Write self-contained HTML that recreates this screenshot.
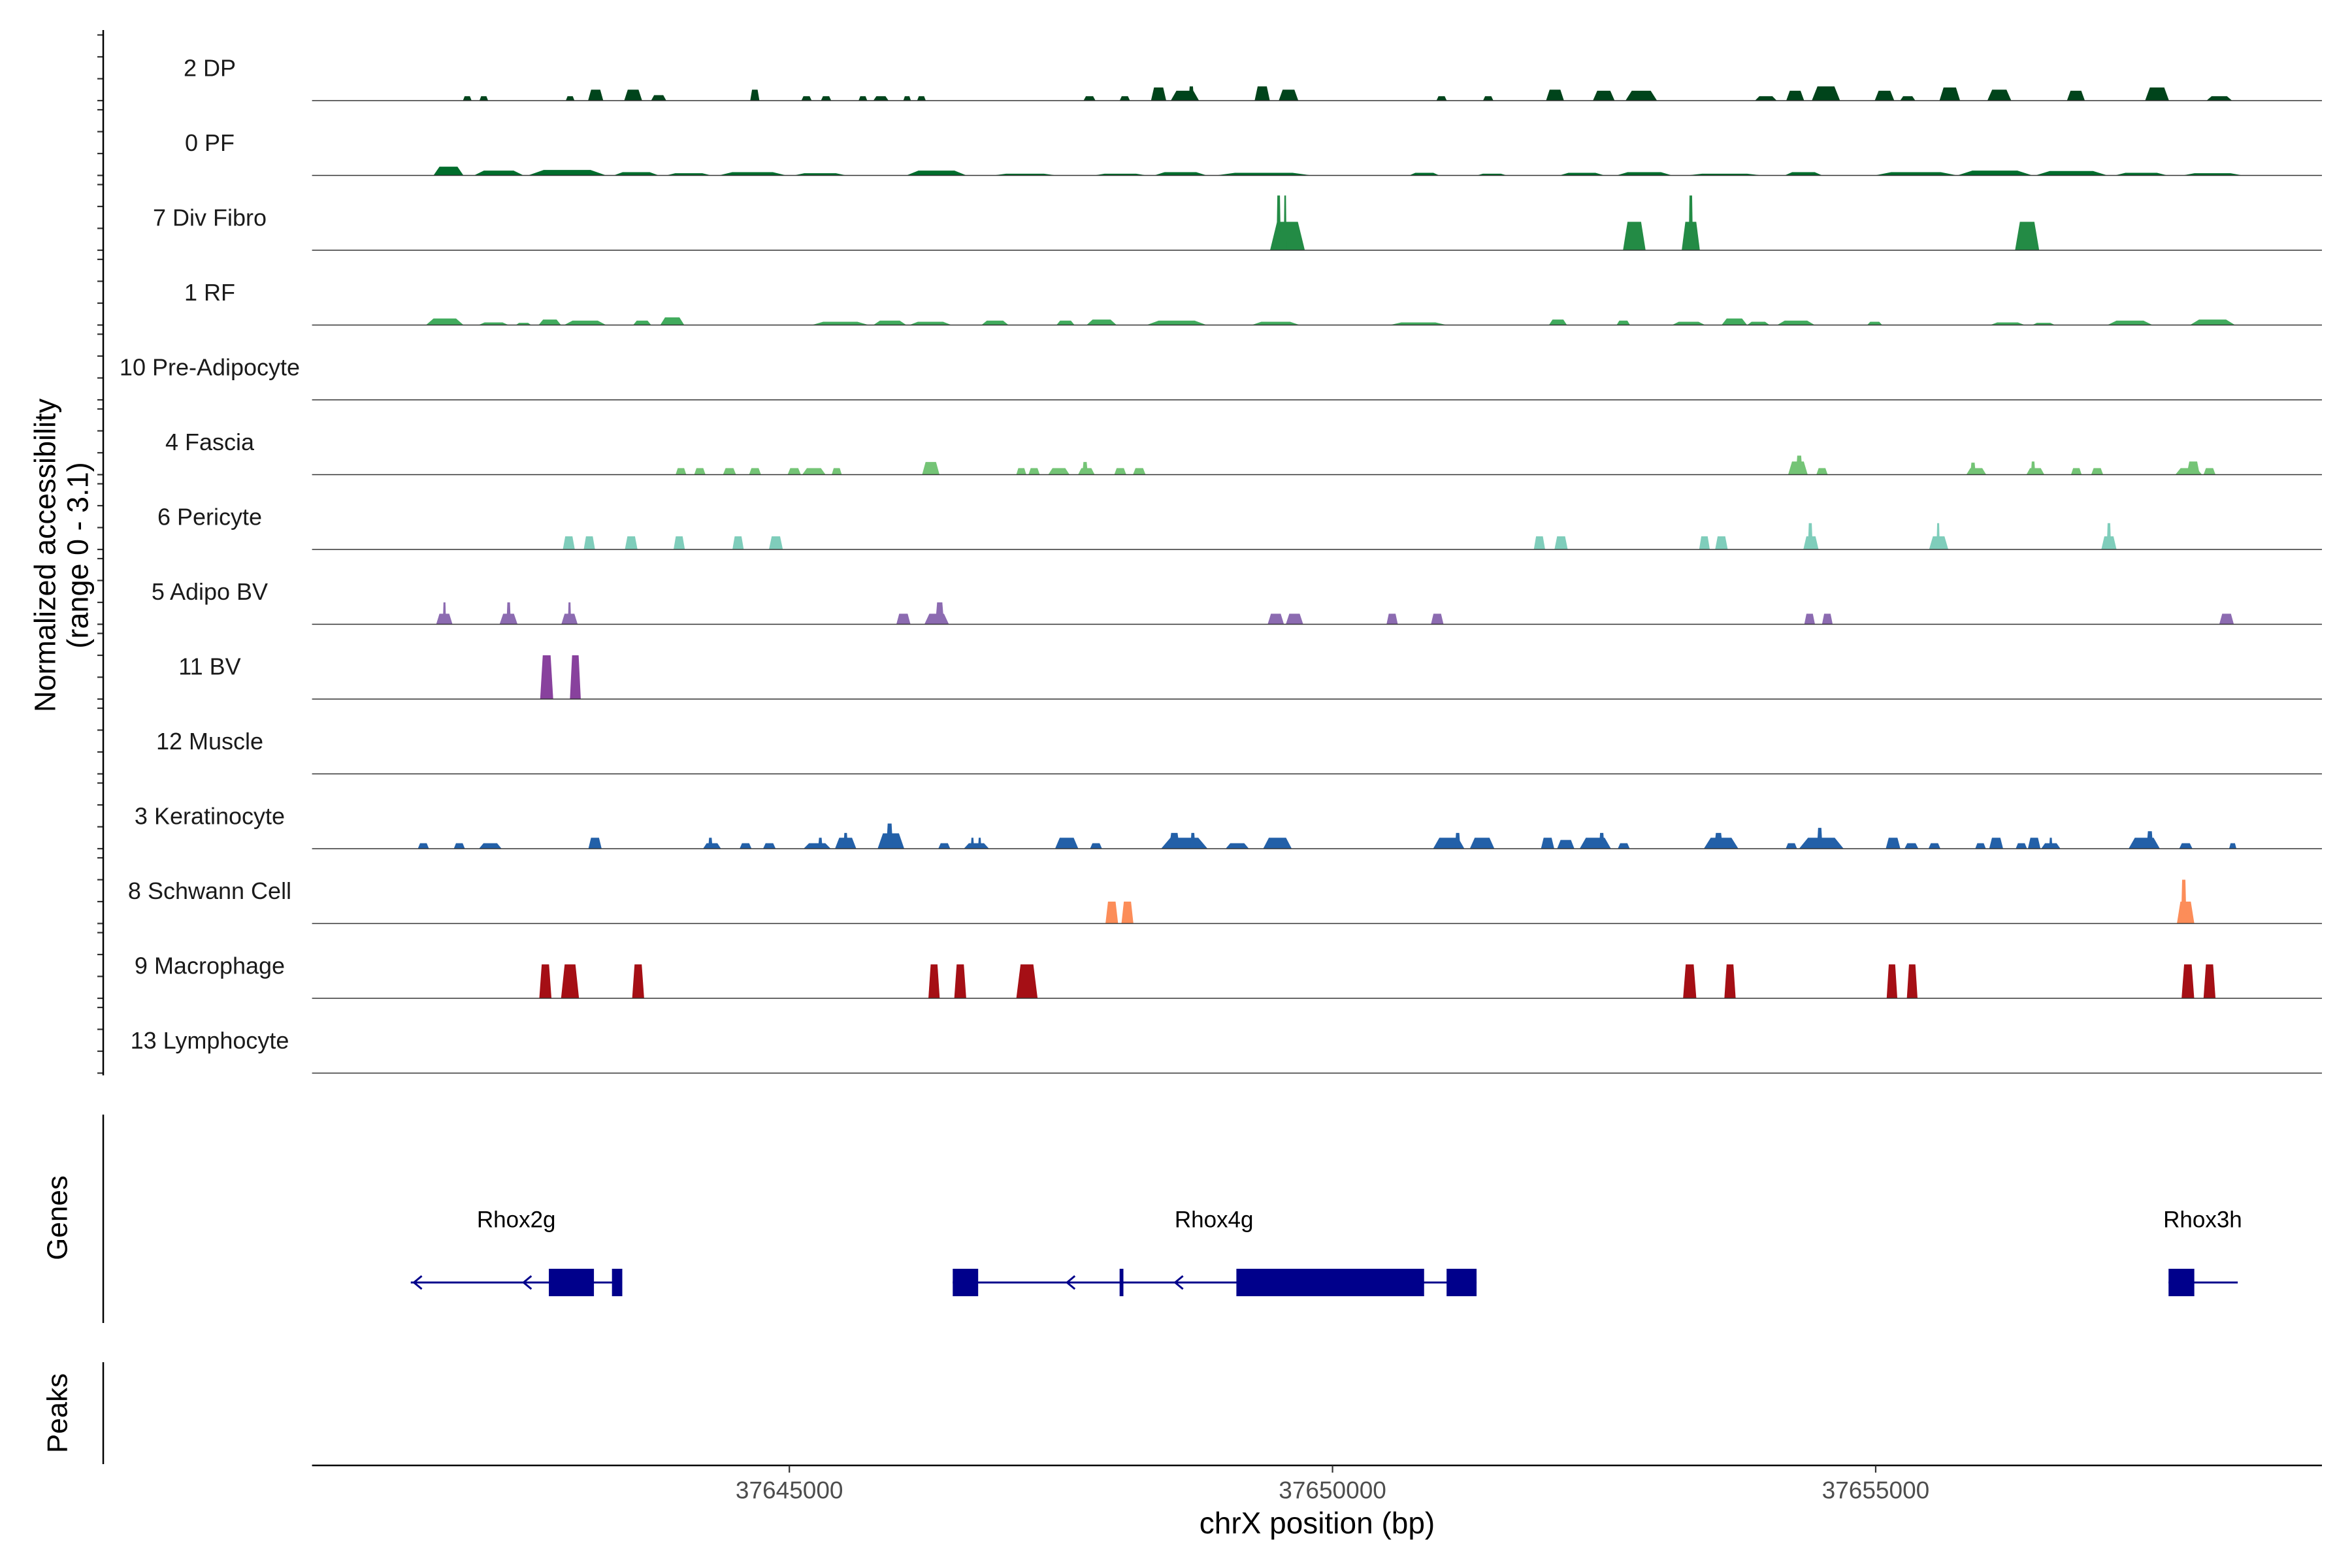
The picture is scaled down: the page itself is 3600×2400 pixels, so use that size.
<!DOCTYPE html>
<html><head><meta charset="utf-8"><title>Coverage plot</title>
<style>html,body{margin:0;padding:0;background:#fff}svg{display:block}text{font-family:"Liberation Sans",Arial,sans-serif}</style>
</head><body>
<svg id="chart" xmlns="http://www.w3.org/2000/svg" width="3600" height="2400" viewBox="0 0 3600 2400">
<rect width="3600" height="2400" fill="#fff"/>
<g id="tracks"></g>
<g id="genes"></g>
<g id="axes"></g>
</svg>
<script>
// peaks: [center bp, width bp, normalized value]
const dpPeaks=[[37642035,80,.2],[37642187,80,.2],[37642982,80,.2],[37643217,140,.5],[37643562,165,.5],[37643797,140,.25],[37644682,85,.5],[37645158,95,.2],[37645338,95,.2],[37645677,80,.2],[37645843,140,.2],[37646084,70,.2],[37646216,80,.2],[37647763,110,.2],[37648088,95,.2],[37648399,140,.6],[37648641,260,.45],[37648700,50,.65],[37649353,140,.65],[37649595,180,.5],[37651004,95,.2],[37651433,95,.2],[37652048,165,.5],[37652497,200,.45],[37652842,290,.45],[37653989,200,.2],[37654259,165,.45],[37654542,260,.65],[37655081,180,.45],[37655295,140,.2],[37655682,190,.6],[37656138,220,.5],[37656843,165,.45],[37657590,220,.6],[37658163,235,.2]];
const pfPeaks=[[37641862,276,.4],[37642325,456,.22],[37642954,719,.25],[37643590,415,.15],[37644074,415,.1],[37644661,622,.15],[37645283,484,.1],[37646354,553,.22],[37647169,580,.08],[37648047,484,.08],[37648600,484,.15],[37649367,884,.12],[37650845,276,.12],[37651467,276,.08],[37652296,415,.12],[37652870,511,.15],[37653609,691,.08],[37654335,346,.15],[37655371,760,.15],[37656097,691,.22],[37656802,663,.2],[37657444,484,.12],[37658101,553,.1]];
const divFibroPeaks=[[37649585,320,1.3],[37649504,40,2.5],[37649564,25,2.5],[37652778,208,1.3],[37653298,167,1.3],[37653298,40,2.5],[37656394,222,1.3]];
const rfPeaks=[[37641828,346,.3],[37642277,276,.12],[37642553,140,.1],[37642795,207,.25],[37643120,387,.2],[37643645,166,.2],[37643922,221,.35],[37645469,525,.15],[37645925,304,.2],[37646299,387,.15],[37646893,249,.2],[37647542,166,.2],[37647874,276,.25],[37648565,553,.2],[37649477,442,.15],[37650790,525,.12],[37652075,166,.25],[37652677,124,.2],[37653278,304,.15],[37653699,235,.3],[37653920,207,.15],[37654266,346,.2],[37654991,138,.15],[37656214,318,.12],[37656546,207,.1],[37657341,415,.2],[37658101,415,.25]];
const preAdipoPeaks=[];
const fasciaPeaks=[[37644002,98,.3],[37644176,104,.3],[37644449,120,.3],[37644684,110,.3],[37645045,122,.3],[37645226,215,.3],[37645436,93,.3],[37646302,160,.58],[37647135,92,.3],[37647253,104,.3],[37647481,196,.3],[37647734,153,.3],[37647722,50,.58],[37648046,110,.3],[37648221,116,.3],[37654284,180,.6],[37654296,60,.87],[37654506,104,.3],[37655926,183,.3],[37655896,50,.55],[37656470,165,.3],[37656449,40,.6],[37656847,98,.3],[37657039,110,.3],[37657881,245,.3],[37657923,120,.6],[37658073,110,.3]];
const pericytePeaks=[[37642970,110,.6],[37643159,104,.6],[37643544,116,.6],[37643986,104,.6],[37644528,104,.6],[37644876,128,.6],[37651905,104,.6],[37652104,122,.6],[37653424,98,.6],[37653580,116,.6],[37654404,140,.6],[37654398,45,1.2],[37655580,177,.6],[37655575,30,1.2],[37657147,140,.6],[37657147,40,1.2]];
const adipoBvPeaks=[[37641824,150,.48],[37641825,30,1.0],[37642415,165,.48],[37642416,40,1.0],[37642976,150,.48],[37642976,30,1.0],[37646050,130,.48],[37646356,225,.48],[37646384,80,1.0],[37649478,150,.48],[37649650,160,.48],[37650549,104,.48],[37650964,116,.48],[37654392,98,.48],[37654555,98,.48],[37658230,134,.48]];
const bvPeaks=[[37642766,120,2.0],[37643030,100,2.0]];
const musclePeaks=[];
const keratinocytePeaks=[[37641631,102,.25],[37641962,102,.25],[37642247,208,.25],[37643211,122,.5],[37644288,165,.25],[37644273,40,.5],[37644597,110,.25],[37644816,116,.25],[37645256,250,.25],[37645285,40,.5],[37645518,196,.5],[37645518,40,.72],[37645935,245,.7],[37645923,60,1.15],[37646426,110,.25],[37646722,232,.25],[37646685,30,.5],[37646752,30,.5],[37647553,214,.5],[37647823,110,.25],[37648636,428,.5],[37648544,98,.72],[37648714,45,.72],[37649123,214,.25],[37649493,263,.5],[37651070,288,.5],[37651152,50,.72],[37651377,226,.5],[37651980,122,.5],[37652147,159,.4],[37652419,288,.5],[37652478,50,.72],[37652681,110,.25],[37653577,318,.5],[37653553,80,.72],[37654224,104,.25],[37654500,410,.5],[37654485,50,.95],[37655160,134,.5],[37655329,128,.25],[37655541,110,.25],[37655965,98,.25],[37656109,128,.5],[37656341,104,.25],[37656459,116,.5],[37656612,177,.25],[37656612,30,.5],[37657472,288,.5],[37657524,60,.8],[37657855,122,.25],[37658287,67,.25]];
const schwannPeaks=[[37647968,116,1.0],[37648112,110,1.0],[37657853,160,1.0],[37657836,50,2.0]];
const macrophagePeaks=[[37642754,112,1.55],[37642981,165,1.55],[37643608,110,1.55],[37646332,104,1.55],[37646573,110,1.55],[37647187,196,1.55],[37653288,122,1.55],[37653659,104,1.55],[37655150,98,1.55],[37655336,98,1.55],[37657874,116,1.55],[37658073,110,1.55]];
const lymphocytePeaks=[];
const trackNames=["2 DP","0 PF","7 Div Fibro","1 RF","10 Pre-Adipocyte","4 Fascia","6 Pericyte","5 Adipo BV","11 BV","12 Muscle","3 Keratinocyte","8 Schwann Cell","9 Macrophage","13 Lymphocyte"];
const trackColors=["#00441b","#006d2c","#238b45","#41ab5d","#5bb86a","#74c476","#7fcdbb","#8c6bb1","#88419d","#4a4a9a","#2360a8","#fc8d59","#a50f15","#555555"];
const trackPeaks=[dpPeaks,pfPeaks,divFibroPeaks,rfPeaks,preAdipoPeaks,fasciaPeaks,pericytePeaks,adipoBvPeaks,bvPeaks,musclePeaks,keratinocytePeaks,schwannPeaks,macrophagePeaks,lymphocytePeaks];
const yTickValues=[0,1,2,3];
const xTickValues=[37645000,37650000,37655000];
const xDomain=[37640606,37659108];
// genes
const geneNames=["Rhox2g","Rhox4g","Rhox3h"];
const geneStarts=[37641515,37646504,37657696];
const geneEnds=[37643462,37651326,37658333];
const geneLabelPos=[37642486,37648909,37658010];
const exonStarts=[[37642786,37643367],[37646504,37648040,37649115,37651050],[37657696]];
const exonEnds=[[37643201,37643462],[37646738,37648075,37650843,37651326],[37657933]];
const strandArrows=[[37641544,37642553],[37647556,37648551],[]];

const NS="http://www.w3.org/2000/svg";
const X0=477.6,X1=3554;
const xScale=bp=>X0+(bp-xDomain[0])*(X1-X0)/(xDomain[1]-xDomain[0]);
const base=i=>154+114.5*i;
const yScale=(i,v)=>base(i)-v*33.5;
function mk(tag,attrs,parent){const e=document.createElementNS(NS,tag);for(const k in attrs)e.setAttribute(k,attrs[k]);parent.appendChild(e);return e;}
const gT=document.getElementById('tracks'),gG=document.getElementById('genes'),gA=document.getElementById('axes');

trackNames.forEach((name,i)=>{
  const b=base(i);
  const lab=mk('text',{x:321,y:b-50,'text-anchor':'middle','dominant-baseline':'central','font-size':36,fill:'#1a1a1a'},gT);
  lab.textContent=name;
  
  
  trackPeaks[i].forEach((p,j)=>{
    const x1=xScale(p[0]-p[1]/2),x2=xScale(p[0]+p[1]/2),y=yScale(i,p[2]);
    const s=(x2-x1)*0.2;
    const poly=mk('polygon',{points:`${x1},${b} ${x1+s},${y} ${x2-s},${y} ${x2},${b}`,fill:trackColors[i]},gT);
    
    
  });
  const bl=mk('line',{x1:X0,x2:X1,y1:b,y2:b,stroke:'#333',"stroke-width":1.6},gT);
  
  
  yTickValues.forEach(v=>{
    const y=yScale(i,v);
    const t=mk('line',{x1:149,x2:158,y1:y,y2:y,stroke:'#333',"stroke-width":2.2},gA);
    
    
  });
});
[[46,1646],[1706,2025],[2085,2241]].forEach((r,k)=>{
  const l=mk('line',{x1:158,x2:158,y1:r[0],y2:r[1],stroke:'#000',"stroke-width":2.5},gA);
  
  
});
function rotText(txt,x,y,size,nm){const t=mk('text',{x:0,y:0,transform:`translate(${x},${y}) rotate(-90)`,'text-anchor':'middle','dominant-baseline':'central','font-size':size,fill:'#000'},gA);t.textContent=txt;}
rotText('Normalized accessibility',69,850,45,'y-axis-title');
rotText('(range 0 - 3.1)',119,850,45,'y-axis-subtitle');
rotText('Genes',88,1864,44,'genes-title');
rotText('Peaks',88,2163,44,'peaks-title');
const xa=mk('line',{x1:X0,x2:X1,y1:2243,y2:2243,stroke:'#000',"stroke-width":2.5},gA);


xTickValues.forEach(v=>{
  const x=xScale(v);
  const t=mk('line',{x1:x,x2:x,y1:2243,y2:2254,stroke:'#333',"stroke-width":2.2},gA);
  
  
  const l=mk('text',{x:x,y:2281,'text-anchor':'middle','dominant-baseline':'central','font-size':37,fill:'#4d4d4d'},gA);
  l.textContent=String(v);
  
  
});
const xt=mk('text',{x:2016,y:2331,'text-anchor':'middle','dominant-baseline':'central','font-size':46,fill:'#000'},gA);
xt.textContent='chrX position (bp)';


const GY=1963,GC='#00008b';
geneNames.forEach((g,i)=>{
  const ln=mk('line',{x1:xScale(geneStarts[i]),x2:xScale(geneEnds[i]),y1:GY,y2:GY,stroke:GC,"stroke-width":3},gG);
  
  
  exonStarts[i].forEach((s,j)=>{
    const x1=xScale(s),x2=xScale(exonEnds[i][j]);
    const r=mk('rect',{x:x1,y:1942,width:Math.max(4,x2-x1),height:42,fill:GC},gG);
    
    
  });
  strandArrows[i].forEach(a=>{
    const x=xScale(a);
    const p=mk('polyline',{points:`${x+12},${GY-10} ${x},${GY} ${x+12},${GY+10}`,fill:'none',stroke:GC,"stroke-width":3},gG);
    
    
  });
  const t=mk('text',{x:xScale(geneLabelPos[i]),y:1867,'text-anchor':'middle','dominant-baseline':'central','font-size':35,fill:'#000'},gG);
  t.textContent=g;
  
  
});
</script>
</body></html>
